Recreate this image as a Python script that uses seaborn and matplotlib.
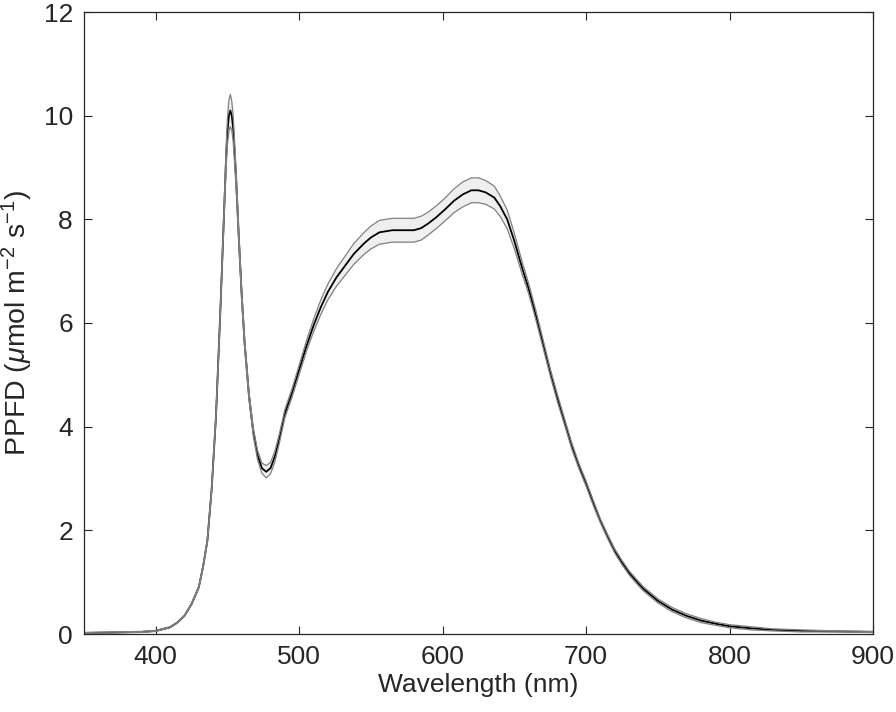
import numpy as np
import pandas as pd
import matplotlib
matplotlib.use("Agg")
import matplotlib.pyplot as plt
import seaborn as sns

# wavelength (nm), mean PPFD and half-width of the shaded band
wavelength = [350, 370, 390, 400, 410, 415, 420, 425, 430, 433, 436, 439, 442, 445,
              448, 449, 450, 451, 452, 453, 454, 456, 458, 460, 462, 465, 468, 471, 474, 477, 480,
              483, 486, 490, 495, 500, 505, 510, 515, 520, 526, 530, 538, 545, 550,
              556, 565, 572, 580, 585, 590, 596, 602, 608, 614, 620, 625, 630, 636,
              640, 645, 650, 655, 660, 665, 670, 675, 680, 686, 690, 695, 700, 705,
              710, 715, 720, 725, 730, 735, 740, 750, 760, 770, 780, 790, 800, 815,
              830, 850, 875, 900]
ppfd_mean = [0.02, 0.03, 0.04, 0.06, 0.13, 0.22, 0.35, 0.58, 0.9, 1.3, 1.8, 2.8, 4.2, 6.2,
             8.4, 9.15, 9.7, 10.0, 10.1, 10.0, 9.75, 8.8, 7.6, 6.5, 5.6, 4.6, 3.9, 3.45, 3.2, 3.13, 3.2,
             3.42, 3.75, 4.25, 4.65, 5.1, 5.55, 5.95, 6.3, 6.6, 6.88, 7.03, 7.33, 7.53, 7.65,
             7.75, 7.79, 7.79, 7.79, 7.83, 7.92, 8.05, 8.2, 8.36, 8.48, 8.56, 8.56, 8.52, 8.42,
             8.26, 8.0, 7.58, 7.1, 6.66, 6.15, 5.6, 5.05, 4.55, 4.0, 3.63, 3.24, 2.9, 2.53,
             2.18, 1.88, 1.6, 1.38, 1.18, 1.02, 0.87, 0.64, 0.47, 0.35, 0.26, 0.2, 0.15, 0.11,
             0.08, 0.06, 0.05, 0.04]
ppfd_spread = [0.01, 0.01, 0.01, 0.01, 0.01, 0.01, 0.01, 0.015, 0.02, 0.025, 0.03, 0.035, 0.04, 0.05,
               0.12, 0.2, 0.26, 0.3, 0.31, 0.28, 0.25, 0.18, 0.12, 0.1, 0.09, 0.08, 0.08, 0.09, 0.1, 0.12, 0.11,
               0.1, 0.09, 0.08, 0.08, 0.09, 0.1, 0.12, 0.14, 0.15, 0.17, 0.18, 0.2, 0.21, 0.22,
               0.23, 0.23, 0.23, 0.23, 0.23, 0.22, 0.22, 0.22, 0.23, 0.24, 0.24, 0.24, 0.23, 0.22,
               0.2, 0.18, 0.15, 0.12, 0.1, 0.09, 0.08, 0.07, 0.07, 0.06, 0.06, 0.05, 0.05, 0.05,
               0.04, 0.04, 0.04, 0.04, 0.04, 0.04, 0.04, 0.04, 0.04, 0.04, 0.04, 0.03, 0.03, 0.03,
               0.02, 0.02, 0.01, 0.01]

df = pd.DataFrame({"wl": wavelength, "mean": ppfd_mean, "sd": ppfd_spread})
df["upper"] = df["mean"] + df["sd"]
df["lower"] = df["mean"] - df["sd"]

sns.set_theme(style="ticks")
plt.rcParams["font.family"] = ["Liberation Sans", "DejaVu Sans"]
plt.rcParams["mathtext.fontset"] = "custom"
plt.rcParams["mathtext.rm"] = "Liberation Sans"
plt.rcParams["mathtext.it"] = "Liberation Sans:italic"

fig = plt.figure(figsize=(8.96, 7.12), dpi=100)
ax = fig.add_axes([84 / 896, 78 / 712, 789 / 896, 622 / 712])

ax.fill_between(df["wl"], df["lower"], df["upper"], color="#efefef", lw=0)
sns.lineplot(data=df, x="wl", y="mean", color="black", lw=1.3, ax=ax)
sns.lineplot(data=df, x="wl", y="upper", color="#808080", lw=0.9, ax=ax)
sns.lineplot(data=df, x="wl", y="lower", color="#808080", lw=0.9, ax=ax)

ax.set_xlim(350, 900)
ax.set_ylim(0, 12)
ax.set_xticks([400, 500, 600, 700, 800, 900])
ax.set_yticks([0, 2, 4, 6, 8, 10, 12])
ax.set_xlabel("Wavelength (nm)", fontsize=19, color="#262626", labelpad=3)
ax.set_ylabel(r"PPFD ($\mu$mol m$^{-2}$ s$^{-1}$)", fontsize=20.5, color="#262626", labelpad=6)
ax.tick_params(direction="in", length=6, width=0.8, top=True, right=True,
               labelsize=19, colors="#262626", pad=8)
for s in ax.spines.values():
    s.set_visible(True)
    s.set_linewidth(0.9)
    s.set_color("#262626")

fig.savefig("out.png", dpi=100)
